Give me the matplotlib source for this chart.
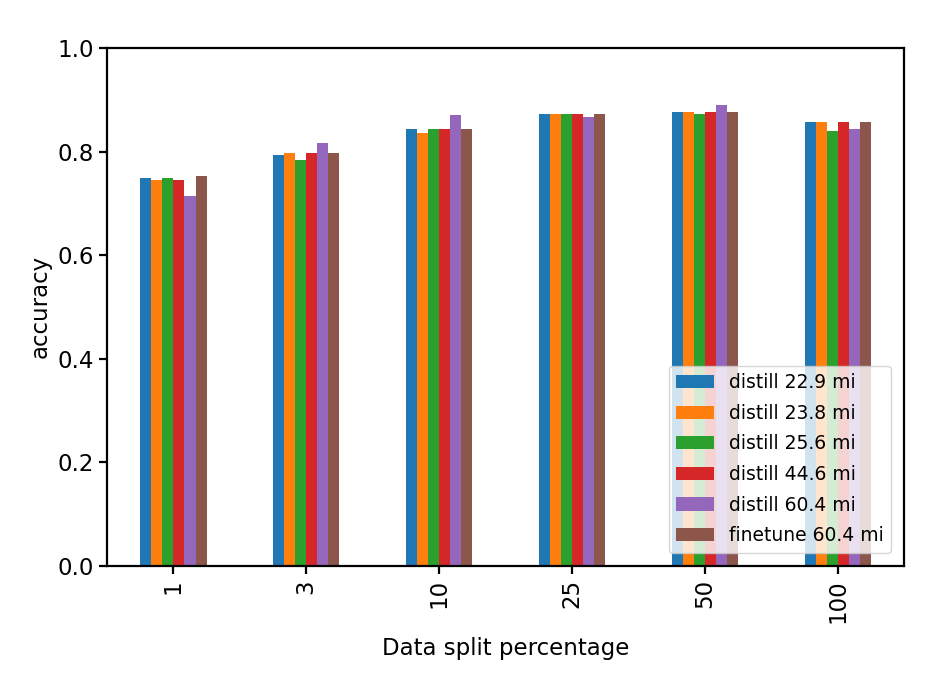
import numpy as np
import matplotlib
matplotlib.use('Agg')
import matplotlib.pyplot as plt

# data
splits = ['1', '3', '10', '25', '50', '100']
models = ['distill 22.9 mi', 'distill 23.8 mi', 'distill 25.6 mi',
          'distill 44.6 mi', 'distill 60.4 mi', 'finetune 60.4 mi']
distill_22_9 = [0.748, 0.794, 0.844, 0.872, 0.876, 0.857]
distill_23_8 = [0.745, 0.798, 0.835, 0.872, 0.876, 0.857]
distill_25_6 = [0.748, 0.784, 0.844, 0.872, 0.872, 0.840]
distill_44_6 = [0.745, 0.798, 0.844, 0.872, 0.876, 0.858]
distill_60_4 = [0.714, 0.817, 0.871, 0.866, 0.889, 0.844]
finetune_60_4 = [0.752, 0.798, 0.843, 0.872, 0.876, 0.857]
series = [distill_22_9, distill_23_8, distill_25_6, distill_44_6, distill_60_4, finetune_60_4]

colors = ['#1f77b4', '#ff7f0e', '#2ca02c', '#d62728', '#9467bd', '#8c564b']

plt.rcParams['font.size'] = 16.5

fig = plt.figure(figsize=(9.38, 6.76), dpi=100)
ax = fig.add_axes([0.114, 0.163, 0.850, 0.766])

x = np.arange(len(splits))
total_w = 0.5
w = total_w / len(series)
for i, (name, vals) in enumerate(zip(models, series)):
    pos = x - total_w / 2 + w / 2 + i * w
    ax.bar(pos, vals, width=w, color=colors[i], label=name)

ax.set_xlim(-0.5, len(splits) - 0.5)
ax.set_ylim(0, 1.0)
ax.set_yticks([0.0, 0.2, 0.4, 0.6, 0.8, 1.0])
ax.set_xticks(x)
ax.set_xticklabels(splits, rotation=90)
ax.set_xlabel('Data split percentage', fontsize=16.5, labelpad=10)
ax.set_ylabel('accuracy', fontsize=16.5)
for s in ax.spines.values():
    s.set_linewidth(1.6)
ax.tick_params(width=1.6, length=6)

ax.legend(loc='lower right', fontsize=13.5, framealpha=0.8, labelspacing=0.62,
          borderaxespad=0.7)

fig.savefig('out.png', dpi=100)
